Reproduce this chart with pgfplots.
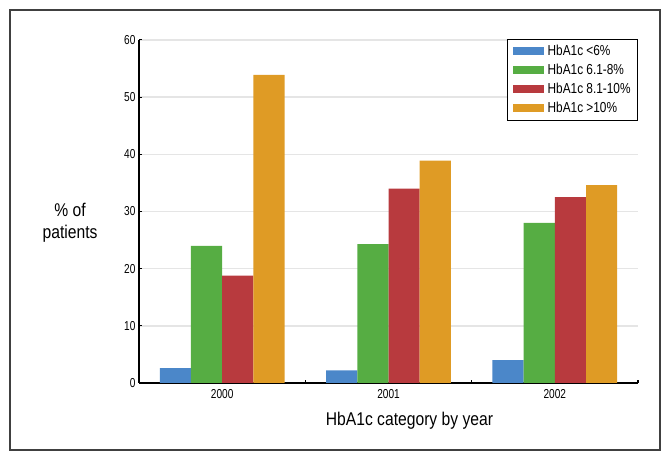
\documentclass[border=0pt]{standalone}
\usepackage{fontspec}
\setmainfont{Liberation Sans}[FakeStretch=0.85]
\newfontfamily\condfont{Liberation Sans}[FakeStretch=0.78]
\newfontfamily\legfont{Liberation Sans}[FakeStretch=0.82]
\usepackage{pgfplots}
\pgfplotsset{compat=1.18}
\definecolor{cBlue}{HTML}{4B87C9}
\definecolor{cGreen}{HTML}{56AD43}
\definecolor{cRed}{HTML}{B83A3E}
\definecolor{cOrange}{HTML}{DF9B25}
\begin{document}
\begin{tikzpicture}[x=1bp,y=1bp]
\useasboundingbox (-139,-78) rectangle (532,383);
\begin{axis}[
  at={(0,0)}, anchor=south west,
  scale only axis, width=499bp, height=343bp,
  xmin=-0.5, xmax=2.5, ymin=0, ymax=60,
  ybar=0pt, bar width=0.1875,
  axis lines*=left,
  axis line style={-, line width=1.5bp, black},
  xtick pos=lower, ytick pos=left,
  tick align=inside,
  xtick={0,1,2}, xticklabels={2000,2001,2002},
  major x tick style={draw=none},
  extra x ticks={0.5,1.5,2.5}, extra x tick labels={},
  extra x tick style={major tick length=3bp, major x tick style={draw=black, line width=1.2bp}},
  ytick={0,10,20,30,40,50,60},
  major tick length=3bp,
  tick style={black, line width=1bp},
  ymajorgrids,
  grid style={line width=1.5bp, black!10},
  /pgf/number format/assume math mode=true,
  tick label style={font=\condfont\fontsize{13}{15}\selectfont},
  xticklabel style={yshift=-3bp},
  xlabel={HbA1c category by year},
  every axis x label/.style={at={(axis description cs:0.542,-0.1225)}, anchor=base, font=\fontsize{18.5}{22}\selectfont},
  ylabel={\% of\\patients},
  every axis y label/.style={at={(axis description cs:-0.138,0.466)}, anchor=center, align=center, font=\fontsize{18.5}{22}\selectfont},
  legend style={at={(rel axis cs:1,1.003)}, anchor=north east, draw=black, line width=0.8bp,
    font=\legfont\fontsize{14.5}{16}\selectfont, inner xsep=5bp, inner ysep=4bp,
    row sep=3bp, cells={anchor=west},
    /tikz/every odd column/.append style={column sep=2bp}},
  legend image code/.code={\fill[#1] (0bp,-4bp) rectangle (31bp,4bp);},
]
\addplot[fill=cBlue, draw=none] coordinates {(0,2.6) (1,2.2) (2,4.0)};
\addplot[fill=cGreen, draw=none] coordinates {(0,24.0) (1,24.3) (2,28.0)};
\addplot[fill=cRed, draw=none] coordinates {(0,18.8) (1,34.0) (2,32.5)};
\addplot[fill=cOrange, draw=none] coordinates {(0,53.9) (1,38.9) (2,34.6)};
\legend{HbA1c <6\%, HbA1c 6.1-8\%, HbA1c 8.1-10\%, HbA1c >10\%}
\end{axis}
\draw[line width=1.5bp, color=black!75] (-129,-67) rectangle (521,373);
\end{tikzpicture}
\end{document}
